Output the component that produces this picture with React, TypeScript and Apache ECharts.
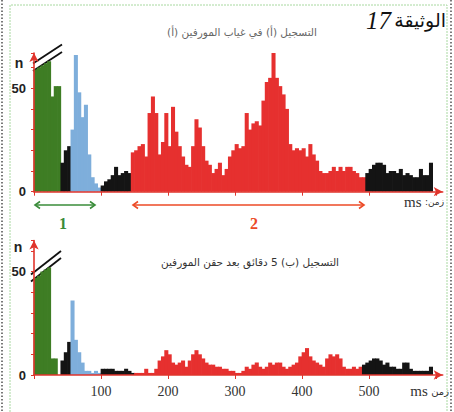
import React, { useEffect, useRef } from "react";
import * as echarts from "echarts";

// ---- data (bins of 5 ms, values = n) ----
const BIN_MS = 5;
const N_BINS = 122; // 0 .. 610 ms
const binLabels = Array.from({ length: N_BINS }, (_, i) => String(i * BIN_MS));

// Recording (أ) — without morphine
const topGreenStart = 0;
const topGreen = [59, 60, 61, 62, 63, 46, 51, 51];
const topBlackAStart = 8;
const topBlackA = [14, 20, 22];
const topBlueStart = 11;
const topBlue = [30, 66, 48, 36, 42, 18, 7, 4, 2];
const topBlackBStart = 20;
const topBlackB = [3, 5, 6, 8, 12, 8, 9, 10, 9];
const topRedStart = 29;
const topRed = [
  19, 20, 22, 23, 17, 38, 46, 38, 18, 24, 38, 22, 41, 29, 22, 17, 13, 12, 22, 35,
  31, 22, 15, 13, 9, 11, 14, 8, 11, 17, 20, 23, 21, 22, 38, 30, 33, 34, 32, 44,
  53, 55, 67, 55, 51, 47, 40, 23, 20, 21, 20, 21, 17, 23, 18, 15, 10, 9, 9, 10,
  12, 10, 12, 10, 12, 12, 10, 9, 7, 7,
];
const topBlackCStart = 99;
const topBlackC = [9, 11, 13, 14, 14, 13, 9, 10, 10, 9, 11, 8, 9, 8, 7, 7, 11, 8, 8, 14];

// Recording (ب) — 5 min after morphine injection
const botGreenStart = 0;
const botGreen = [47, 48, 50, 51, 52, 8, 8];
const botBlackAStart = 8;
const botBlackA = [7, 11, 16];
const botBlueStart = 11;
const botBlue = [36, 17, 11, 6, 2, 2, 1, 2, 1];
const botBlackBStart = 20;
const botBlackB = [3, 3, 3, 3, 2, 2, 2, 3, 2, 1];
const botRedStart = 30;
const botRed = [
  1, 1, 1, 3, 1, 1, 3, 7, 9, 12, 10, 6, 5, 6, 7, 4, 7, 10, 12, 10,
  8, 6, 5, 5, 4, 4, 3, 3, 2, 2, 1, 1, 2, 4, 3, 5, 6, 4, 3, 4,
  6, 5, 6, 6, 4, 3, 4, 5, 6, 9, 11, 13, 9, 7, 6, 5, 4, 8, 10, 9,
  10, 8, 4, 3, 3, 4, 3, 4,
];
const botBlackCStart = 98;
const botBlackC = [5, 6, 7, 8, 8, 7, 5, 6, 4, 4, 3, 3, 6, 6, 3, 2, 2, 2, 2, 2, 4];

const xTickMs = [0, 100, 200, 300, 400, 500, 600];

// ---- styles ----
const RED_AXIS = "#e0342c";
const PALETTE = ["#3e7d24", "#141414", "#7eaedb", "#e6302f"]; // green, black, blue, red
const G = 0, K = 1, B = 2, R = 3;

type Seg = [number, number[], number];

function buildData(segs: Seg[]) {
  const out: [number, number, number][] = [];
  segs.forEach(([start, vals, c]) => vals.forEach((v, i) => out.push([start + i, v, c])));
  return out;
}

function histSeries(data: [number, number, number][], gi: number) {
  return {
    type: "custom",
    xAxisIndex: gi * 2,
    yAxisIndex: gi,
    data,
    silent: true,
    encode: { x: 0, y: 1 },
    renderItem: (params: any, api: any) => {
      const idx = api.value(0);
      const val = api.value(1);
      const color = PALETTE[api.value(2)];
      const base = api.coord([idx, 0]);
      const top = api.coord([idx, val]);
      const w = api.size([1, 0])[0];
      return {
        type: "rect",
        shape: { x: base[0] - w / 2 - 0.35, y: top[1], width: w + 0.7, height: base[1] - top[1] },
        style: { fill: color },
      };
    },
  };
}

function doubleArrow(x1: number, x2: number, y: number, color: string) {
  const h = 3.5;
  const w = 5;
  return [
    { type: "line", shape: { x1, y1: y, x2, y2: y }, style: { stroke: color, lineWidth: 1.6 } },
    { type: "polyline", shape: { points: [[x1 + w, y - h], [x1, y], [x1 + w, y + h]] }, style: { stroke: color, lineWidth: 1.6, fill: null } },
    { type: "polyline", shape: { points: [[x2 - w, y - h], [x2, y], [x2 - w, y + h]] }, style: { stroke: color, lineWidth: 1.6, fill: null } },
  ];
}

function breakMark(ax1: number, ay1: number, ax2: number, ay2: number, gap: number) {
  return [
    { type: "polygon", shape: { points: [[ax1, ay1], [ax2, ay2], [ax2, ay2 + gap], [ax1, ay1 + gap]] }, style: { fill: "#fff" } },
    { type: "line", shape: { x1: ax1, y1: ay1, x2: ax2, y2: ay2 }, style: { stroke: "#111", lineWidth: 1.8 } },
    { type: "line", shape: { x1: ax1, y1: ay1 + gap, x2: ax2, y2: ay2 + gap }, style: { stroke: "#111", lineWidth: 1.8 } },
  ];
}

export default function App() {
  const ref = useRef<HTMLDivElement>(null);
  useEffect(() => {
    if (!ref.current) return;
    const chart = echarts.init(ref.current, null, { renderer: "svg" });

    const yAxisBase = (gi: number, max: number) => ({
      type: "value",
      gridIndex: gi,
      min: 0,
      max,
      interval: 10,
      axisLine: {
        show: true,
        onZero: false,
        symbol: ["none", "arrow"],
        symbolSize: [7, 9],
        lineStyle: { color: RED_AXIS, width: 1.6 },
      },
      axisTick: { show: true, length: 3, lineStyle: { color: RED_AXIS, width: 1 } },
      axisLabel: {
        formatter: (v: number) => (v === 0 || v === 50 ? String(v) : ""),
        fontFamily: "Liberation Sans",
        fontWeight: "bold",
        fontSize: 13,
        color: "#222",
        margin: 8,
      },
      splitLine: { show: false },
      z: 5,
    });

    const xCat = (gi: number) => ({
      type: "category",
      gridIndex: gi,
      data: binLabels,
      show: false,
      boundaryGap: true,
    });

    const xVal = (gi: number, labels: boolean) => ({
      type: "value",
      gridIndex: gi,
      position: "bottom",
      min: 0,
      max: 610,
      interval: 100,
      axisLine: {
        show: true,
        onZero: false,
        symbol: ["none", "arrow"],
        symbolSize: [7, 9],
        lineStyle: { color: RED_AXIS, width: 1.6 },
      },
      axisTick: {
        show: true,
        length: 4,
        lineStyle: { color: RED_AXIS, width: 1 },
        customValues: xTickMs,
      },
      axisLabel: {
        show: labels,
        formatter: (v: number) => (v > 0 && v <= 500 ? String(v) : ""),
        fontFamily: "Liberation Serif",
        fontSize: 14,
        color: "#333",
        margin: 9,
      },
      splitLine: { show: false },
      z: 5,
    });

    const graphic: any[] = [
      // frame
      { type: "line", shape: { x1: 2, y1: 0, x2: 2, y2: 412 }, style: { stroke: "#222", lineWidth: 1.2, lineDash: [1.5, 2] } },
      { type: "line", shape: { x1: 451, y1: 0, x2: 451, y2: 412 }, style: { stroke: "#222", lineWidth: 1.2, lineDash: [1.5, 2] } },
      { type: "polyline", shape: { points: [[10, 412], [10, 5], [447, 5], [447, 412]] }, style: { stroke: "#a8d8a0", lineWidth: 1, lineDash: [2, 1], fill: null } },
      // document title
      {
        type: "text",
        x: 446,
        y: 20,
        style: {
          text: "{num|17} {ar|الوثيقة}",
          align: "right",
          verticalAlign: "middle",
          rich: {
            num: { fontFamily: "Liberation Serif", fontStyle: "italic", fontSize: 25, fill: "#111" },
            ar: { fontFamily: "DejaVu Sans", fontSize: 19, fill: "#111" },
          },
        },
      },
      {
        type: "text",
        x: 242,
        y: 32,
        style: {
          text: "التسجيل (أ) في غياب المورفين (أ)",
          align: "center",
          verticalAlign: "middle",
          fontFamily: "DejaVu Sans",
          fontSize: 10.5,
          fill: "#666",
        },
      },
      {
        type: "text",
        x: 250,
        y: 262,
        style: {
          text: "التسجيل (ب) 5 دقائق بعد حقن المورفين",
          align: "center",
          verticalAlign: "middle",
          fontFamily: "DejaVu Sans",
          fontSize: 10.5,
          fill: "#333",
        },
      },
      // n labels
      { type: "text", x: 19, y: 63, style: { text: "n", align: "center", verticalAlign: "middle", fontFamily: "Liberation Sans", fontWeight: "bold", fontSize: 14, fill: "#222" } },
      { type: "text", x: 18, y: 247, style: { text: "n", align: "center", verticalAlign: "middle", fontFamily: "Liberation Sans", fontWeight: "bold", fontSize: 14, fill: "#222" } },
      // time unit labels
      {
        type: "text",
        x: 444,
        y: 202,
        style: {
          text: "{ms|ms} {ar|:زمن}",
          align: "right",
          verticalAlign: "middle",
          rich: {
            ms: { fontFamily: "Liberation Serif", fontSize: 15, fill: "#333" },
            ar: { fontFamily: "DejaVu Sans", fontSize: 9, fill: "#333" },
          },
        },
      },
      {
        type: "text",
        x: 449,
        y: 391,
        style: {
          text: "{ms|ms} {ar|زمن}",
          align: "right",
          verticalAlign: "middle",
          rich: {
            ms: { fontFamily: "Liberation Serif", fontSize: 15, fill: "#333" },
            ar: { fontFamily: "DejaVu Sans", fontSize: 10, fill: "#333" },
          },
        },
      },
      // phase arrows + labels
      ...doubleArrow(35, 95, 205, "#3a8c3a"),
      ...doubleArrow(133, 364, 205, "#ec4a26"),
      { type: "text", x: 63, y: 223, style: { text: "1", align: "center", verticalAlign: "middle", fontFamily: "Liberation Serif", fontWeight: "bold", fontSize: 16, fill: "#3a8c3a" } },
      { type: "text", x: 254, y: 223, style: { text: "2", align: "center", verticalAlign: "middle", fontFamily: "Liberation Serif", fontWeight: "bold", fontSize: 16, fill: "#ec4a26" } },
      // axis breaks
      ...breakMark(33, 63.5, 62, 44.5, 7.5),
      ...breakMark(31, 274.5, 61, 251, 7),
    ];

    const topData = buildData([
      [topGreenStart, topGreen, G],
      [topBlackAStart, topBlackA, K],
      [topBlueStart, topBlue, B],
      [topBlackBStart, topBlackB, K],
      [topRedStart, topRed, R],
      [topBlackCStart, topBlackC, K],
    ]);
    const botData = buildData([
      [botGreenStart, botGreen, G],
      [botBlackAStart, botBlackA, K],
      [botBlueStart, botBlue, B],
      [botBlackBStart, botBlackB, K],
      [botRedStart, botRed, R],
      [botBlackCStart, botBlackC, K],
    ]);

    chart.setOption({
      animation: false,
      backgroundColor: "#ffffff",
      grid: [
        { left: 34, top: 53, width: 408.7, height: 138.7 },
        { left: 34, top: 240.5, width: 408.7, height: 134.5 },
      ],
      xAxis: [xCat(0), xVal(0, false), xCat(1), xVal(1, true)],
      yAxis: [yAxisBase(0, 67), yAxisBase(1, 65)],
      series: [histSeries(topData, 0), histSeries(botData, 1)],
      graphic,
    });
    return () => chart.dispose();
  }, []);
  return (
    <div
      ref={ref}
      style={{ position: "fixed", left: 0, top: 0, width: 454, height: 412, background: "#fff" }}
    />
  );
}
